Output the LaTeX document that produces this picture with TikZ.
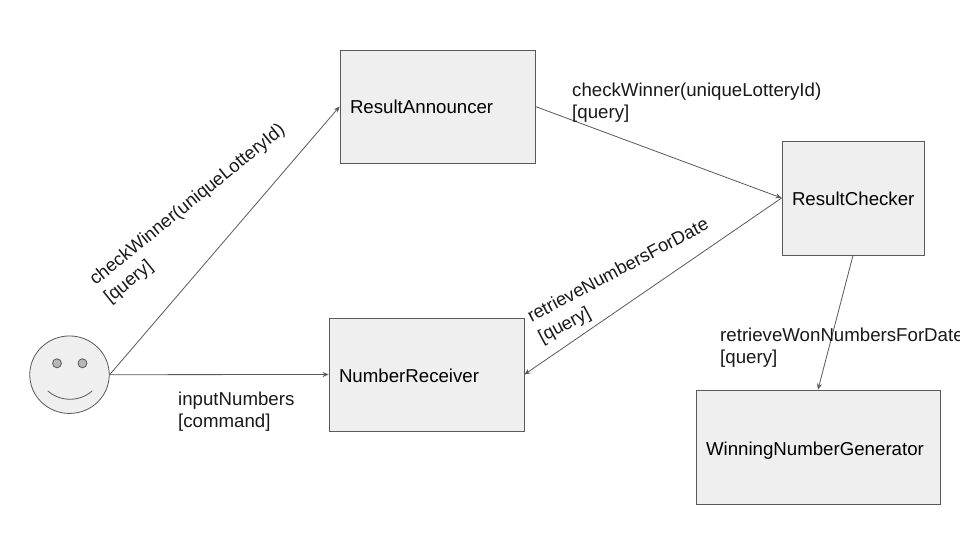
\documentclass[tikz,border=0pt]{standalone}
\usepackage{fontspec}
\setmainfont{Liberation Sans}
\usetikzlibrary{arrows.meta,shapes.geometric}
\definecolor{linegrey}{HTML}{595959}
\definecolor{boxfill}{HTML}{EFEFEF}
\definecolor{eyefill}{HTML}{B7B7B7}
\tikzset{
  boxnode/.style={draw=linegrey,fill=boxfill,line width=0.8pt,inner xsep=10pt,inner ysep=0pt,align=left,font=\fontsize{18.67}{22}\selectfont},
  lbl/.style={inner sep=0pt,align=left,anchor=north west,text=black!90,font=\fontsize{18.67}{22}\selectfont},
  rlbl/.style={lbl,font=\fontsize{18.35}{23}\selectfont},
  conn/.style={draw=linegrey,line width=0.8pt,-{Stealth[length=6pt,width=5pt]}},
  facepart/.style={draw=linegrey,line width=0.8pt}
}
\begin{document}
\begin{tikzpicture}[x=1pt,y=-1pt]
\clip (0,0) rectangle (960,540);
\fill[white] (0,0) rectangle (960,540);
% boxes
\node[boxnode,text width=175pt,minimum height=113pt] (announcer) at (437.5,106.5) {ResultAnnouncer};
\node[boxnode,text width=175pt,minimum height=113pt,text height=15.5pt,text depth=0pt] (receiver) at (426.5,374.5) {NumberReceiver};
\node[boxnode,text width=122pt,minimum height=114pt,text height=15.5pt,text depth=0pt] (checker) at (853,198) {ResultChecker};
\node[boxnode,text width=224pt,minimum height=114pt,text height=17.5pt,text depth=0pt] (generator) at (818,447) {WinningNumberGenerator};
% actor
\node[facepart,fill=boxfill,ellipse,inner sep=0pt,minimum width=79.5pt,minimum height=77.5pt] (face) at (69.5,374.7) {};
\node[facepart,fill=eyefill,circle,inner sep=0pt,minimum size=9pt] (lefteye) at (57,363.3) {};
\node[facepart,fill=eyefill,circle,inner sep=0pt,minimum size=9pt] (righteye) at (82.5,363.3) {};
\draw[facepart,line cap=round] (48,391) .. controls (60,402) and (80,402) .. (92,391);
% connectors
\draw[conn] (face.east) -- (announcer.west);
\draw[conn] (face.east) -- (receiver.west);
\draw[conn] (announcer.east) -- (checker.west);
\draw[conn] (checker.west) -- (receiver.east);
\draw[conn] (checker.south) -- (generator.north);
% labels
\node[lbl] (l1) at (572,83) {checkWinner(uniqueLotteryId)\\{}[query]};
\node[lbl] (l2) at (178,392) {inputNumbers\\{}[command]};
\node[lbl] (l3) at (720,327.5) {retrieveWonNumbersForDate\\{}[query]};
\node[rlbl,rotate=39] (l5) at (87,275.5) {checkWinner(uniqueLotteryId)\\{}[query]};
\node[rlbl,rotate=28] (l6) at (525,311) {retrieveNumbersForDate\\{}[query]};
\end{tikzpicture}
\end{document}
